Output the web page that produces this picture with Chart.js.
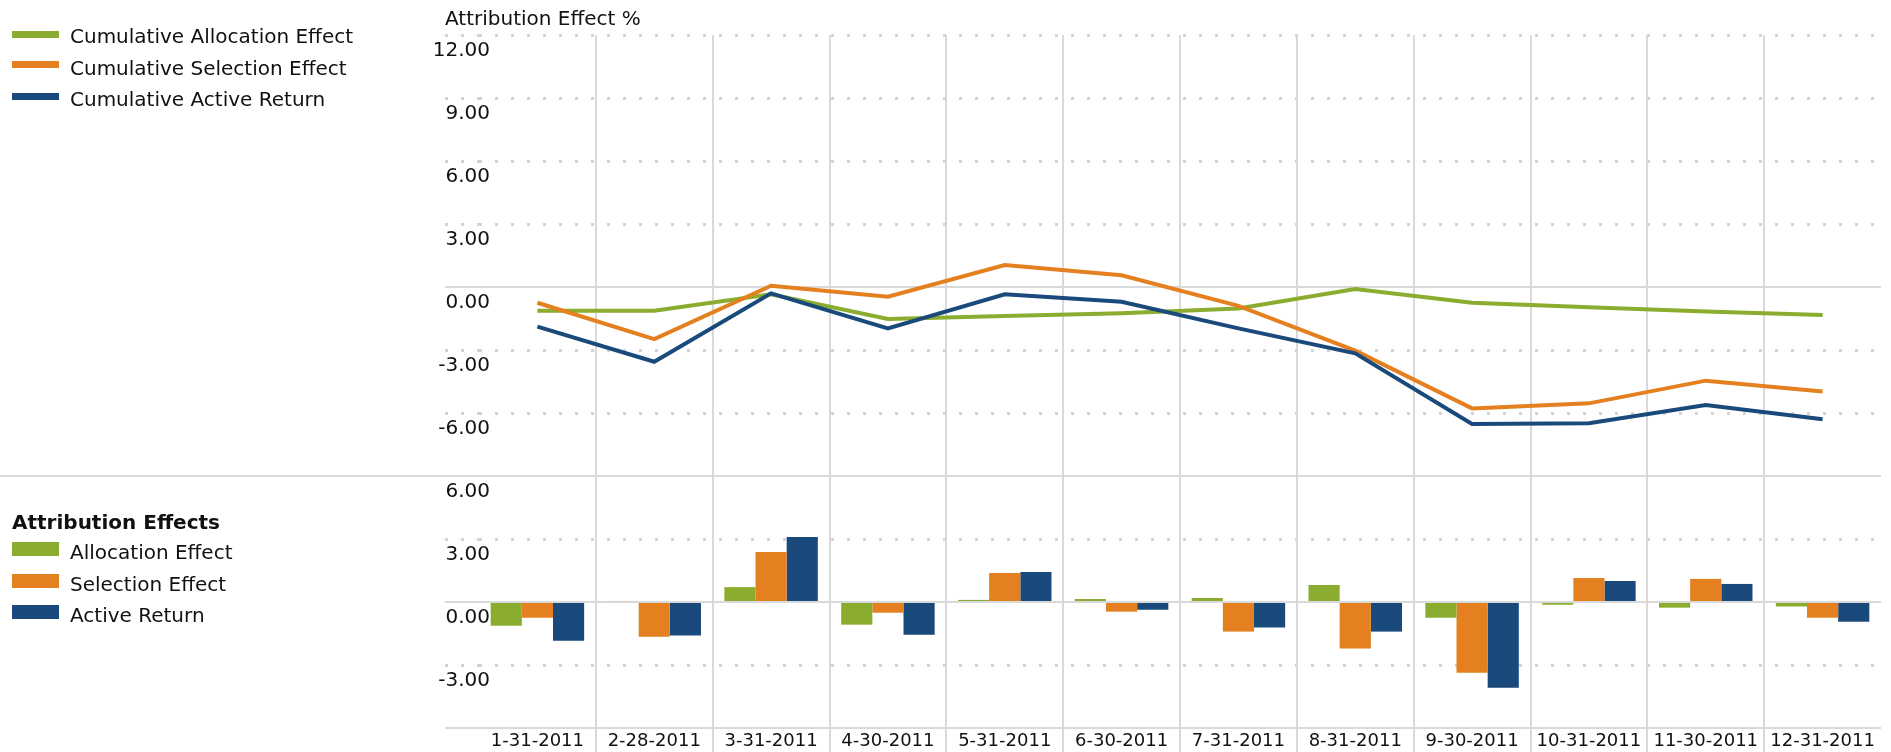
<!DOCTYPE html>
<html>
<head>
<meta charset="utf-8">
<title>Attribution Effects</title>
<script src="https://cdn.jsdelivr.net/npm/chart.js@4.4.0/dist/chart.umd.min.js"></script>
<style>
  body { margin: 0; background: #fff; }
  #wrap { position: relative; width: 1891px; height: 752px; overflow: hidden;
          font-family: "DejaVu Sans", Verdana, sans-serif; color: #111; }
  #chart { position: absolute; left: 0; top: 0; }
  .txt { position: absolute; font-size: 20px; line-height: 24px; white-space: nowrap; }
  .sw { position: absolute; left: 12px; width: 47px; }
  #sep { position: absolute; left: 0; top: 475px; width: 446px; height: 2px; background: #d9d9d9; }
</style>
</head>
<body>
<div id="wrap">
  <canvas id="chart" width="1891" height="752"></canvas>
  <div id="sep"></div>
  <div class="txt" style="left:445px; top:6px">Attribution Effect %</div>
  <div id="legendTop"></div>
  <div id="legendBottom"></div>
</div>
<script>
// datos
const months = ["1-31-2011", "2-28-2011", "3-31-2011", "4-30-2011", "5-31-2011", "6-30-2011",
                "7-31-2011", "8-31-2011", "9-30-2011", "10-31-2011", "11-30-2011", "12-31-2011"];

const cumAllocation = [-1.13, -1.13, -0.35, -1.52, -1.38, -1.25, -1.02, -0.10, -0.75, -0.97, -1.17, -1.33];
const cumSelection  = [-0.75, -2.48, 0.06, -0.46, 1.05, 0.56, -0.90, -3.03, -5.78, -5.54, -4.46, -4.98];
const cumActive     = [-1.89, -3.56, -0.30, -1.97, -0.35, -0.70, -1.97, -3.16, -6.52, -6.49, -5.62, -6.30];

const allocation = [-1.13, 0.05, 0.71, -1.08, 0.10, 0.14, 0.19, 0.81, -0.75, -0.13, -0.27, -0.22];
const selection  = [-0.75, -1.65, 2.38, -0.51, 1.38, -0.46, -1.41, -2.22, -3.37, 1.14, 1.10, -0.75];
const active     = [-1.84, -1.60, 3.10, -1.56, 1.43, -0.37, -1.22, -1.41, -4.08, 1.00, 0.86, -0.94];

const lineLabels = ["Cumulative Allocation Effect", "Cumulative Selection Effect", "Cumulative Active Return"];
const barLabels = ["Allocation Effect", "Selection Effect", "Active Return"];
const barTitle = "Attribution Effects";

const topTicks = { min: -9, max: 12, step: 3 };
const bottomTicks = { min: -6, max: 6, step: 3 };

const GREEN = "#8aad2f";
const ORANGE = "#e4801f";
const BLUE = "#1a4a7b";
const colors = [GREEN, ORANGE, BLUE];

const FONT = "'DejaVu Sans', Verdana, sans-serif";
const SOLID = "#d9d9d9";
const DOT = "#d4d4d4";

// leyendas HTML
function buildLegends() {
  const top = document.getElementById("legendTop");
  const topY = [31, 61, 93];
  const topText = [24, 56, 87];
  lineLabels.forEach((lbl, i) => {
    top.insertAdjacentHTML("beforeend",
      `<div class="sw" style="top:${topY[i]}px;height:7px;background:${colors[i]}"></div>` +
      `<div class="txt" style="left:70px;top:${topText[i]}px">${lbl}</div>`);
  });
  const bot = document.getElementById("legendBottom");
  bot.insertAdjacentHTML("beforeend",
    `<div class="txt" style="left:12px;top:510px;font-weight:bold">${barTitle}</div>`);
  const botY = [542, 574, 605];
  const botText = [540, 572, 603];
  barLabels.forEach((lbl, i) => {
    bot.insertAdjacentHTML("beforeend",
      `<div class="sw" style="top:${botY[i]}px;height:14px;background:${colors[i]}"></div>` +
      `<div class="txt" style="left:70px;top:${botText[i]}px">${lbl}</div>`);
  });
}

// ancho de la etiqueta más larga, para alinear a la derecha con mirror
const measureCtx = document.createElement("canvas").getContext("2d");
measureCtx.font = "20px " + FONT;
function widest(range) {
  let w = 0;
  for (let v = range.min + range.step; v <= range.max; v += range.step) {
    w = Math.max(w, measureCtx.measureText(v.toFixed(2)).width);
  }
  return w;
}

function yAxis(range, solidValues, stackWeight, weight) {
  const solid = ctx => ctx.tick && solidValues.includes(ctx.tick.value);
  const col = ctx => solid(ctx) ? SOLID : DOT;
  const width = ctx => solid(ctx) ? 2 : 3;
  const dash = ctx => solid(ctx) ? [] : [3, 13];
  return {
    type: "linear",
    position: "left",
    stack: "main",
    stackWeight: stackWeight,
    weight: weight,
    min: range.min,
    max: range.max,
    afterFit: s => { s.width = 34; },
    grid: {
      color: col, lineWidth: width,
      tickColor: col, tickWidth: width, tickLength: 34,
      tickBorderDash: dash, borderDash: dash
    },
    border: { display: false, dash: dash },
    ticks: {
      stepSize: range.step,
      mirror: true,
      crossAlign: "far",
      padding: 11 - widest(range),
      labelOffset: 16,
      color: "#111",
      font: { family: FONT, size: 20 },
      callback: v => v === range.min ? "" : v.toFixed(2)
    }
  };
}

const vCol = ctx => (ctx.index > 0 ? SOLID : "rgba(0,0,0,0)");

buildLegends();

new Chart(document.getElementById("chart").getContext("2d"), {
  type: "bar",
  data: {
    labels: months,
    datasets: [
      { type: "line", label: lineLabels[0], data: cumAllocation, yAxisID: "yL", order: 3,
        borderColor: GREEN, borderWidth: 4, pointRadius: 0, tension: 0, fill: false },
      { type: "line", label: lineLabels[1], data: cumSelection, yAxisID: "yL", order: 2,
        borderColor: ORANGE, borderWidth: 4, pointRadius: 0, tension: 0, fill: false },
      { type: "line", label: lineLabels[2], data: cumActive, yAxisID: "yL", order: 1,
        borderColor: BLUE, borderWidth: 4, pointRadius: 0, tension: 0, fill: false },
      { label: barLabels[0], data: allocation, yAxisID: "yB", order: 4, backgroundColor: GREEN,
        barPercentage: 1, categoryPercentage: 0.8 },
      { label: barLabels[1], data: selection, yAxisID: "yB", order: 5, backgroundColor: ORANGE,
        barPercentage: 1, categoryPercentage: 0.8 },
      { label: barLabels[2], data: active, yAxisID: "yB", order: 6, backgroundColor: BLUE,
        barPercentage: 1, categoryPercentage: 0.8 }
    ]
  },
  options: {
    responsive: false,
    animation: false,
    devicePixelRatio: 1,
    layout: { padding: { left: 445, top: 35, right: 10, bottom: 0 } },
    plugins: { legend: { display: false }, tooltip: { enabled: false } },
    scales: {
      x: {
        offset: true,
        afterFit: s => { s.height = 24; },
        grid: { offset: true, color: vCol, tickColor: vCol, lineWidth: 2, tickWidth: 2, tickLength: 24 },
        border: { display: false },
        ticks: { padding: -21, maxRotation: 0, autoSkip: false, color: "#111",
                 font: { family: FONT, size: 18 } }
      },
      yL: yAxis(topTicks, [0, -9], 441, 1),
      yB: yAxis(bottomTicks, [0, 6, -6], 252, 0)
    }
  }
});
</script>
</body>
</html>
